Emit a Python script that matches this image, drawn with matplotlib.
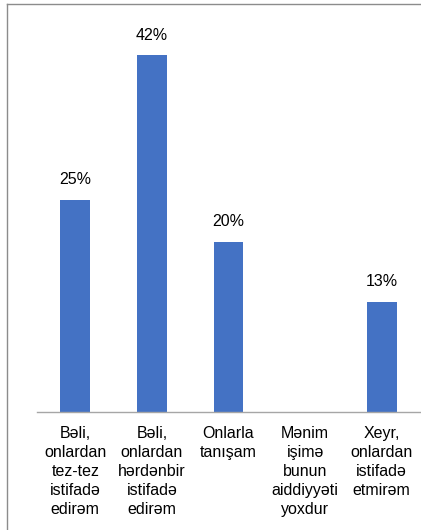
import matplotlib.pyplot as plt
import numpy as np

plt.rcParams['font.family'] = ['Liberation Sans', 'DejaVu Sans']

# answers and shares (%)
categories = [
    "Bəli,\nonlardan\ntez-tez\nistifadə\nedirəm",
    "Bəli,\nonlardan\nhərdənbir\nistifadə\nedirəm",
    "Onlarla\ntanışam",
    "Mənim\nişimə\nbunun\naiddiyyəti\nyoxdur",
    "Xeyr,\nonlardan\nistifadə\netmirəm",
]
values = [25, 42, 20, 0, 13]
labels = ["25%", "42%", "20%", "", "13%"]

W, H = 421, 530
fig = plt.figure(figsize=(W / 100, H / 100), dpi=100)

# axes placed in pixel coords: x 37..420, y 10..412 (from top)
ax = fig.add_axes([37 / W, (H - 412) / H, (420 - 37) / W, (412 - 10) / H])
x = np.arange(len(categories))
ax.bar(x, values, width=0.39, color="#4472C4")
ax.set_xlim(-0.5, len(categories) - 0.5)
ax.set_ylim(0, 402 / 8.5)

for xi, v, lab in zip(x, values, labels):
    if lab:
        ax.annotate(lab, (xi, v), xytext=(0, 9), textcoords="offset points",
                    ha="center", va="bottom", fontsize=11.5, color="#000000")

for s in ["top", "right", "left"]:
    ax.spines[s].set_visible(False)
ax.spines["bottom"].set_color("#A6A6A6")
ax.spines["bottom"].set_linewidth(1)
ax.set_yticks([])
ax.set_xticks(x)
ax.set_xticklabels(categories, fontsize=11.5, linespacing=1.33, va="top")
ax.tick_params(axis="x", length=0, pad=10)

# outer frame (left and top edges of the surrounding box)
fig.add_artist(plt.Line2D([7 / W, 7 / W], [0, 1 - 3.5 / H], transform=fig.transFigure,
                          color="#8C8C8C", lw=1))
fig.add_artist(plt.Line2D([7 / W, 1], [1 - 3.5 / H, 1 - 3.5 / H], transform=fig.transFigure,
                          color="#8C8C8C", lw=1))

fig.savefig("out.png", dpi=100)
